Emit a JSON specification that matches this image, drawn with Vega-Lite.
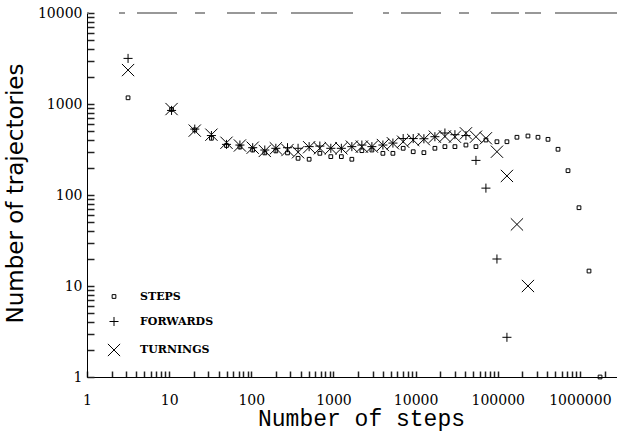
{
  "$schema": "https://vega.github.io/schema/vega-lite/v6.json",
  "width": 530,
  "height": 364,
  "autosize": {"type": "none"},
  "padding": {"left": 87, "top": 13, "right": 0, "bottom": 56},
  "background": "white",
  "config": {"view": {"stroke": null}},
  "datasets": {
    "pts": [
      {"s": "STEPS", "x": 3.16, "y": 1170}, {"s": "STEPS", "x": 10.7, "y": 870}, {"s": "STEPS", "x": 20.5, "y": 520}, {"s": "STEPS", "x": 32.7, "y": 420}, {"s": "STEPS", "x": 49.9, "y": 350}, {"s": "STEPS", "x": 72.7, "y": 337}, {"s": "STEPS", "x": 104, "y": 312}, {"s": "STEPS", "x": 146, "y": 290}, {"s": "STEPS", "x": 199, "y": 305}, {"s": "STEPS", "x": 276, "y": 290}, {"s": "STEPS", "x": 371, "y": 253}, {"s": "STEPS", "x": 506, "y": 247}, {"s": "STEPS", "x": 683, "y": 287}, {"s": "STEPS", "x": 929, "y": 264}, {"s": "STEPS", "x": 1248, "y": 264}, {"s": "STEPS", "x": 1675, "y": 247}, {"s": "STEPS", "x": 2218, "y": 307}, {"s": "STEPS", "x": 2938, "y": 312}, {"s": "STEPS", "x": 4000, "y": 287}, {"s": "STEPS", "x": 5296, "y": 287}, {"s": "STEPS", "x": 7063, "y": 326}, {"s": "STEPS", "x": 9354, "y": 299}, {"s": "STEPS", "x": 12620, "y": 292}, {"s": "STEPS", "x": 17180, "y": 326}, {"s": "STEPS", "x": 22750, "y": 340}, {"s": "STEPS", "x": 30120, "y": 340}, {"s": "STEPS", "x": 41000, "y": 354}, {"s": "STEPS", "x": 54300, "y": 340}, {"s": "STEPS", "x": 71800, "y": 402}, {"s": "STEPS", "x": 97800, "y": 385}, {"s": "STEPS", "x": 129400, "y": 385}, {"s": "STEPS", "x": 171300, "y": 431}, {"s": "STEPS", "x": 233300, "y": 445}, {"s": "STEPS", "x": 309000, "y": 431}, {"s": "STEPS", "x": 409000, "y": 409}, {"s": "STEPS", "x": 541600, "y": 318}, {"s": "STEPS", "x": 716800, "y": 185}, {"s": "STEPS", "x": 975300, "y": 72.5}, {"s": "STEPS", "x": 1291000, "y": 14.6}, {"s": "STEPS", "x": 1760000, "y": 1},
      {"s": "FORWARDS", "x": 3.16, "y": 3170}, {"s": "FORWARDS", "x": 10.7, "y": 850}, {"s": "FORWARDS", "x": 20.5, "y": 530}, {"s": "FORWARDS", "x": 32.7, "y": 450}, {"s": "FORWARDS", "x": 49.9, "y": 360}, {"s": "FORWARDS", "x": 72.7, "y": 354}, {"s": "FORWARDS", "x": 104, "y": 331}, {"s": "FORWARDS", "x": 146, "y": 312}, {"s": "FORWARDS", "x": 199, "y": 326}, {"s": "FORWARDS", "x": 276, "y": 331}, {"s": "FORWARDS", "x": 371, "y": 326}, {"s": "FORWARDS", "x": 506, "y": 340}, {"s": "FORWARDS", "x": 683, "y": 345}, {"s": "FORWARDS", "x": 929, "y": 326}, {"s": "FORWARDS", "x": 1248, "y": 326}, {"s": "FORWARDS", "x": 1675, "y": 340}, {"s": "FORWARDS", "x": 2218, "y": 354}, {"s": "FORWARDS", "x": 2938, "y": 340}, {"s": "FORWARDS", "x": 4000, "y": 354}, {"s": "FORWARDS", "x": 5296, "y": 372}, {"s": "FORWARDS", "x": 7063, "y": 417}, {"s": "FORWARDS", "x": 9354, "y": 417}, {"s": "FORWARDS", "x": 12620, "y": 415}, {"s": "FORWARDS", "x": 17180, "y": 437}, {"s": "FORWARDS", "x": 22750, "y": 480}, {"s": "FORWARDS", "x": 30120, "y": 460}, {"s": "FORWARDS", "x": 41000, "y": 450}, {"s": "FORWARDS", "x": 54300, "y": 240}, {"s": "FORWARDS", "x": 71800, "y": 119}, {"s": "FORWARDS", "x": 97800, "y": 19.8}, {"s": "FORWARDS", "x": 129400, "y": 2.73},
      {"s": "TURNINGS", "x": 3.16, "y": 2360}, {"s": "TURNINGS", "x": 10.7, "y": 880}, {"s": "TURNINGS", "x": 20.5, "y": 510}, {"s": "TURNINGS", "x": 32.7, "y": 460}, {"s": "TURNINGS", "x": 49.9, "y": 375}, {"s": "TURNINGS", "x": 72.7, "y": 350}, {"s": "TURNINGS", "x": 104, "y": 331}, {"s": "TURNINGS", "x": 146, "y": 305}, {"s": "TURNINGS", "x": 199, "y": 326}, {"s": "TURNINGS", "x": 276, "y": 312}, {"s": "TURNINGS", "x": 371, "y": 295}, {"s": "TURNINGS", "x": 506, "y": 335}, {"s": "TURNINGS", "x": 683, "y": 326}, {"s": "TURNINGS", "x": 929, "y": 326}, {"s": "TURNINGS", "x": 1248, "y": 326}, {"s": "TURNINGS", "x": 1675, "y": 340}, {"s": "TURNINGS", "x": 2218, "y": 340}, {"s": "TURNINGS", "x": 2938, "y": 340}, {"s": "TURNINGS", "x": 4000, "y": 354}, {"s": "TURNINGS", "x": 5296, "y": 370}, {"s": "TURNINGS", "x": 7063, "y": 385}, {"s": "TURNINGS", "x": 9354, "y": 402}, {"s": "TURNINGS", "x": 12620, "y": 410}, {"s": "TURNINGS", "x": 17180, "y": 437}, {"s": "TURNINGS", "x": 22750, "y": 440}, {"s": "TURNINGS", "x": 30120, "y": 437}, {"s": "TURNINGS", "x": 41000, "y": 476}, {"s": "TURNINGS", "x": 54300, "y": 437}, {"s": "TURNINGS", "x": 71800, "y": 420}, {"s": "TURNINGS", "x": 97800, "y": 299}, {"s": "TURNINGS", "x": 129400, "y": 162}, {"s": "TURNINGS", "x": 171300, "y": 47.5}, {"s": "TURNINGS", "x": 233300, "y": 10}
    ],
    "one": [{}]
  },
  "layer": [
    {
      "data": {"name": "pts"},
      "mark": {"type": "point", "filled": false, "strokeWidth": 1, "color": "black", "opacity": 1},
      "encoding": {
        "x": {
          "field": "x", "type": "quantitative",
          "scale": {"type": "log", "domain": [1, 2830000], "nice": false},
          "axis": {
            "values": [1,2,3,4,5,6,7,8,9,10,20,30,40,50,60,70,80,90,100,200,300,400,500,600,700,800,900,1000,2000,3000,4000,5000,6000,7000,8000,9000,10000,20000,30000,40000,50000,60000,70000,80000,90000,100000,200000,300000,400000,500000,600000,700000,800000,900000,1000000,2000000],
            "labelExpr": "indexof([1,10,100,1000,10000,100000,1000000], datum.value) >= 0 ? format(datum.value, 'd') : ''",
            "grid": false, "ticks": true, "tickSize": -6, "tickWidth": 1.5, "tickColor": "#222222", "domainColor": "black",
            "labelFont": "DejaVu Serif", "labelFontSize": 14, "labelColor": "black",
            "labelPadding": 29, "labelBaseline": "middle", "labelOverlap": false, "labelFlush": false, "labelBound": false,
            "title": "Number of steps", "titleFont": "Liberation Mono", "titleFontSize": 23, "titleFontWeight": "normal", "titleColor": "black",
            "titleX": 274, "titleY": 41, "titleAlign": "center", "titleBaseline": "middle"
          }
        },
        "y": {
          "field": "y", "type": "quantitative",
          "scale": {"type": "log", "domain": [1, 10000], "nice": false},
          "axis": {
            "values": [1,2,3,4,5,6,7,8,9,10,20,30,40,50,60,70,80,90,100,200,300,400,500,600,700,800,900,1000,2000,3000,4000,5000,6000,7000,8000,9000,10000],
            "labelExpr": "indexof([1,10,100,1000,10000], datum.value) >= 0 ? format(datum.value, 'd') : ''",
            "grid": false, "ticks": true, "tickSize": -7, "tickWidth": 1.5, "tickColor": "#222222", "domainColor": "black",
            "labelFont": "DejaVu Serif", "labelFontSize": 14, "labelColor": "black",
            "labelPadding": 12, "labelBaseline": "middle", "labelAlign": "right", "labelOverlap": false, "labelFlush": false, "labelBound": false,
            "title": "Number of trajectories", "titleFont": "DejaVu Sans", "titleFontSize": 23, "titleFontWeight": "normal", "titleColor": "black",
            "titleX": -72, "titleY": 180, "titleAngle": -90, "titleAlign": "center", "titleBaseline": "middle"
          }
        },
        "shape": {
          "field": "s", "type": "nominal",
          "scale": {"domain": ["STEPS", "FORWARDS", "TURNINGS"], "range": ["square", "M-1,0H1M0,-1V1", "M-1,-1L1,1M-1,1L1,-1"]},
          "legend": {
            "orient": "none", "legendX": 20, "legendY": 278, "title": null, "padding": 0,
            "labelFont": "DejaVu Serif", "labelFontWeight": "bold", "labelFontSize": 11, "labelColor": "black",
            "labelOffset": 19, "rowPadding": 12, "symbolStrokeColor": "black", "symbolStrokeWidth": 1, "symbolFillColor": "black"
          }
        },
        "size": {
          "field": "s", "type": "nominal",
          "scale": {"domain": ["STEPS", "FORWARDS", "TURNINGS"], "range": [14, 150, 110]},
          "legend": {
            "orient": "none", "legendX": 20, "legendY": 278, "title": null, "padding": 0,
            "labelFont": "DejaVu Serif", "labelFontWeight": "bold", "labelFontSize": 11, "labelColor": "black",
            "labelOffset": 19, "rowPadding": 12, "symbolStrokeColor": "black", "symbolStrokeWidth": 1, "symbolFillColor": "black"
          }
        }
      }
    },
    {
      "data": {"name": "one"},
      "mark": {"type": "rule", "color": "#777777", "strokeWidth": 1.5, "strokeDash": [62, 14, 16, 6, 28, 22, 10, 18, 40, 12, 6, 30]},
      "encoding": {
        "y": {"datum": 10000, "type": "quantitative"}
      }
    }
  ]
}
